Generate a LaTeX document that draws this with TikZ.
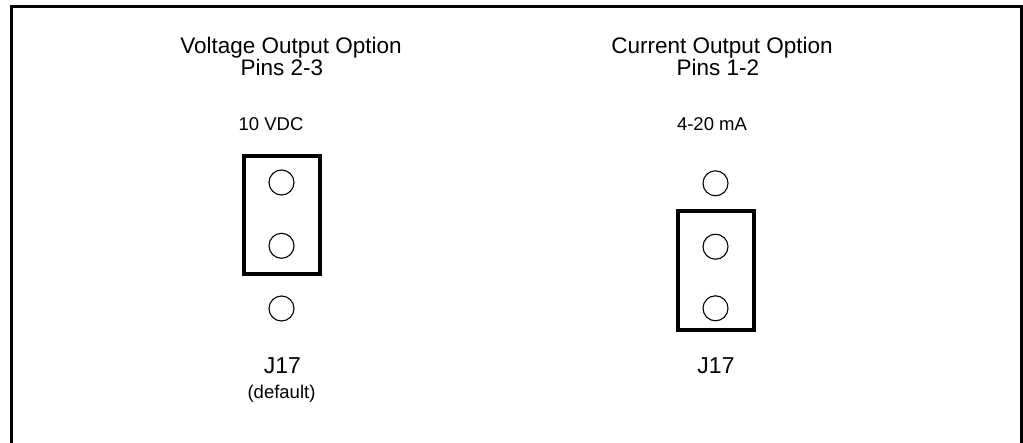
\documentclass[tikz,border=0pt]{standalone}
\usepackage{fontspec}
\setmainfont{Liberation Sans}
\begin{document}
\begin{tikzpicture}[x=1pt,y=-1pt,
  pin/.style={circle,draw,line width=1.1pt,minimum size=25pt,inner sep=0pt},
  jumper/.style={draw,line width=4pt},
  frame/.style={draw,line width=3.5pt},
  title/.style={anchor=base,inner sep=0pt,font=\fontsize{22.5}{27}\selectfont},
  small/.style={anchor=base,inner sep=0pt,font=\fontsize{18.5}{22}\selectfont},
  big/.style={anchor=base,inner sep=0pt,font=\fontsize{23}{27}\selectfont}]
\useasboundingbox (0,0) rectangle (1023,442);
\draw[frame] (11.5,443) -- (11.5,6.5) -- (1021.5,6.5) -- (1021.5,443);
% left
\node[title] (vt) at (291,53) {Voltage Output Option};
\node[title] (vp) at (282,75) {Pins 2-3};
\node[small] (vv) at (271,130) {10 VDC};
\node[pin] (l1) at (281.5,182.5) {};
\node[pin] (l2) at (281.5,245.8) {};
\node[pin] (l3) at (281.5,308.5) {};
\draw[jumper] (244,156) rectangle (319.5,274);
\node[big] (lj) at (282.5,373) {J17};
\node[small] (ld) at (281.5,398) {(default)};
% right
\node[title] (ct) at (722,53) {Current Output Option};
\node[title] (cp) at (718,75) {Pins 1-2};
\node[small] (ca) at (712,130) {4-20 mA};
\node[pin] (r1) at (715.5,183.3) {};
\node[pin] (r2) at (715.5,246.7) {};
\node[pin] (r3) at (715.5,308.3) {};
\draw[jumper] (677.5,211.3) rectangle (754.3,329.7);
\node[big] (rj) at (716,373) {J17};
\end{tikzpicture}
\end{document}
